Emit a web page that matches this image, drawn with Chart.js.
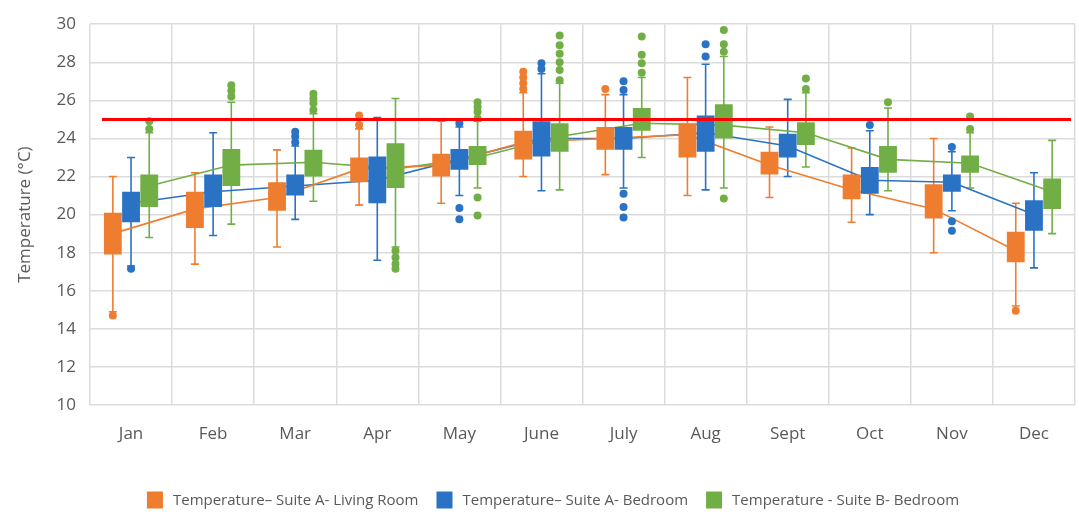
<!DOCTYPE html>
<html>
<head>
<meta charset="utf-8">
<script src="https://cdn.jsdelivr.net/npm/chart.js@4"></script>
<style>
  html, body { margin: 0; padding: 0; background: #ffffff; }
  #wrap { width: 1079px; height: 512px; }
</style>
</head>
<body>
<div id="wrap"><canvas id="chart" width="1079" height="512"></canvas></div>
<script>
// Monthly indoor temperature distributions (°C), one box per room
const months = ['Jan', 'Feb', 'Mar', 'Apr', 'May', 'June', 'July', 'Aug', 'Sept', 'Oct', 'Nov', 'Dec'];
const yTicks = [10, 12, 14, 16, 18, 20, 22, 24, 26, 28, 30];
const seriesNames = ['Temperature\u2013 Suite A- Living Room', 'Temperature\u2013 Suite A- Bedroom', 'Temperature - Suite B- Bedroom'];
const comfortLimit = 25;

// Suite A – Living Room
const livingQ1   = [17.9, 19.3, 20.2, 21.7, 22.0, 22.9, 23.4, 23.0, 22.1, 20.8, 19.8, 17.5];
const livingQ3   = [20.1, 21.2, 21.7, 23.0, 23.2, 24.4, 24.6, 24.8, 23.3, 22.1, 21.6, 19.1];
const livingMin  = [14.9, 17.4, 18.3, 20.5, 20.6, 22.0, 22.1, 21.0, 20.9, 19.6, 18.0, 15.2];
const livingMax  = [22.0, 22.2, 23.4, 24.5, 24.9, 26.4, 26.3, 27.2, 24.6, 23.5, 24.0, 20.6];
const livingMean = [19.0, 20.3, 20.9, 22.4, 22.6, 23.8, 24.0, 24.2, 22.6, 21.3, 20.3, 18.1];
const livingOut  = [[14.7], [], [], [24.7, 25.2], [], [26.6, 26.9, 27.2, 27.5], [26.6], [], [], [], [], [14.95]];

// Suite A – Bedroom
const bedAQ1   = [19.6, 20.4, 21.0, 20.6, 22.35, 23.05, 23.4, 23.3, 23.0, 21.1, 21.2, 19.15];
const bedAQ3   = [21.2, 22.1, 22.1, 23.05, 23.45, 24.9, 24.6, 25.2, 24.25, 22.5, 22.1, 20.75];
const bedAMin  = [17.3, 18.9, 19.75, 17.6, 21.0, 21.25, 21.4, 21.3, 22.0, 20.0, 20.2, 17.2];
const bedAMax  = [23.0, 24.3, 23.6, 25.1, 24.6, 27.4, 26.3, 27.9, 26.05, 24.4, 23.3, 22.2];
const bedAMean = [20.6, 21.2, 21.5, 21.8, 22.9, 24.0, 24.0, 24.3, 23.6, 21.8, 21.7, 20.0];
const bedAOut  = [[17.15], [], [23.8, 24.1, 24.35], [], [24.8, 20.35, 19.75], [27.65, 27.95],
                  [26.55, 27.0, 21.1, 20.4, 19.85], [28.3, 28.95], [], [24.7], [23.55, 19.65, 19.15], []];

// Suite B – Bedroom
const bedBQ1   = [20.4, 21.5, 22.0, 21.4, 22.6, 23.3, 24.4, 24.0, 23.65, 22.2, 22.2, 20.3];
const bedBQ3   = [22.1, 23.45, 23.4, 23.75, 23.6, 24.8, 25.6, 25.8, 24.85, 23.6, 23.1, 21.9];
const bedBMin  = [18.8, 19.5, 20.7, 18.3, 21.4, 21.3, 23.0, 21.4, 22.5, 21.25, 21.4, 19.0];
const bedBMax  = [24.3, 25.9, 25.3, 26.1, 24.9, 26.9, 27.2, 28.3, 26.4, 25.6, 24.3, 23.9];
const bedBMean = [21.5, 22.6, 22.75, 22.4, 23.0, 24.1, 24.8, 24.7, 24.3, 22.9, 22.7, 21.2];
const bedBOut  = [[24.5, 24.9], [26.2, 26.5, 26.8], [25.5, 25.85, 26.1, 26.35], [18.1, 17.75, 17.4, 17.15],
                  [25.05, 25.4, 25.65, 25.9, 20.9, 19.95], [27.05, 27.6, 28.0, 28.45, 28.9, 29.4],
                  [27.45, 27.95, 28.4, 29.35], [28.55, 28.95, 29.7, 20.85], [26.6, 27.15], [25.9], [24.5, 25.15], []];

const COLORS = ['#EE7D30', '#2A72C4', '#72AE46'];
const GROUP_WIDTH = 0.665;   // share of a month taken by its three boxes

const groups = [
  { q1: livingQ1, q3: livingQ3, lo: livingMin, hi: livingMax, mean: livingMean, out: livingOut },
  { q1: bedAQ1,   q3: bedAQ3,   lo: bedAMin,   hi: bedAMax,   mean: bedAMean,   out: bedAOut },
  { q1: bedBQ1,   q3: bedBQ3,   lo: bedBMin,   hi: bedBMax,   mean: bedBMean,   out: bedBOut }
];

// horizontal shift of each series inside its month, in category units
const shift = i => (i - 1) * GROUP_WIDTH / 3;

const datasets = [];
groups.forEach((g, i) => {
  datasets.push({
    type: 'bar',
    label: seriesNames[i],
    data: g.q1.map((v, j) => ({ x: j + shift(i), y: [v, g.q3[j]] })),
    backgroundColor: COLORS[i],
    borderWidth: 0,
    grouped: false,
    categoryPercentage: 1,
    barPercentage: 0.98,
    xAxisID: 'xl',
    order: 2,
    whiskers: { lo: g.lo, hi: g.hi }
  });
});
groups.forEach((g, i) => {
  datasets.push({
    type: 'line',
    label: seriesNames[i] + ' mean',
    data: g.mean.map((v, j) => ({ x: j + shift(i), y: v })),
    borderColor: COLORS[i],
    borderWidth: 1.6,
    pointRadius: 0,
    fill: false,
    tension: 0,
    xAxisID: 'xl',
    order: 3
  });
});
groups.forEach((g, i) => {
  const pts = [];
  g.out.forEach((list, j) => list.forEach(v => pts.push({ x: j + shift(i), y: v })));
  datasets.push({
    type: 'scatter',
    label: seriesNames[i] + ' outliers',
    data: pts,
    backgroundColor: COLORS[i],
    borderColor: COLORS[i],
    pointRadius: 4,
    pointBorderWidth: 0,
    xAxisID: 'xl',
    order: 1
  });
});

// whisker stems and caps for the box datasets
const whiskerPlugin = {
  id: 'whiskers',
  beforeDatasetsDraw(chart) {
    const { ctx } = chart;
    const y = chart.scales.y;
    chart.data.datasets.forEach((ds, i) => {
      if (!ds.whiskers) return;
      const meta = chart.getDatasetMeta(i);
      ctx.save();
      ctx.strokeStyle = ds.backgroundColor;
      ctx.lineWidth = 1.6;
      meta.data.forEach((bar, j) => {
        const yLo = y.getPixelForValue(ds.whiskers.lo[j]);
        const yHi = y.getPixelForValue(ds.whiskers.hi[j]);
        ctx.beginPath();
        ctx.moveTo(bar.x, yLo); ctx.lineTo(bar.x, yHi);
        ctx.moveTo(bar.x - 4, yLo); ctx.lineTo(bar.x + 4, yLo);
        ctx.moveTo(bar.x - 4, yHi); ctx.lineTo(bar.x + 4, yHi);
        ctx.stroke();
      });
      ctx.restore();
    });
  }
};

// red limit line across the plot
const limitPlugin = {
  id: 'limitLine',
  afterDatasetsDraw(chart) {
    const { ctx, chartArea } = chart;
    const yPix = chart.scales.y.getPixelForValue(comfortLimit);
    ctx.save();
    ctx.strokeStyle = '#FF0000';
    ctx.lineWidth = 3;
    ctx.beginPath();
    ctx.moveTo(chartArea.left + 12, yPix);
    ctx.lineTo(chartArea.right - 4, yPix);
    ctx.stroke();
    ctx.restore();
  }
};

const TEXT = '#595959';
const LEGEND_FONT = "15px 'Open Sans', sans-serif";

// legend row below the month labels: one square swatch per box series
const legendPlugin = {
  id: 'boxLegend',
  afterDraw(chart) {
    const { ctx } = chart;
    const boxW = 16, boxH = 17, textGap = 10, itemGap = 18;
    const cy = 500;
    const items = chart.data.datasets.filter(ds => ds.whiskers);
    ctx.save();
    ctx.font = LEGEND_FONT;
    const widths = items.map(ds => boxW + textGap + ctx.measureText(ds.label).width);
    const total = widths.reduce((a, b) => a + b, 0) + itemGap * (items.length - 1);
    let x = 553 - total / 2;
    ctx.textBaseline = 'middle';
    ctx.textAlign = 'left';
    items.forEach((ds, k) => {
      ctx.fillStyle = ds.backgroundColor;
      ctx.fillRect(x, cy - boxH / 2, boxW, boxH);
      ctx.fillStyle = TEXT;
      ctx.fillText(ds.label, x + boxW + textGap, cy + 1);
      x += widths[k] + itemGap;
    });
    ctx.restore();
  }
};

const GRID = '#dcdcdc';

new Chart(document.getElementById('chart'), {
  data: { labels: months, datasets },
  options: {
    responsive: false,
    animation: false,
    events: [],
    layout: { padding: { left: 15, right: 0, top: 22, bottom: 62 } },
    plugins: {
      tooltip: { enabled: false },
      legend: { display: false }
    },
    scales: {
      x: {
        type: 'category',
        offset: true,
        grid: { color: GRID, lineWidth: 1.5, drawTicks: false, offset: true },
        border: { display: false },
        ticks: { color: TEXT, font: { family: "'Open Sans', sans-serif", size: 17 }, padding: 19 },
        afterFit: s => { s.height = 45; }
      },
      xl: {
        type: 'linear',
        display: false,
        offset: false,
        grid: { offset: false },
        min: -0.5,
        max: 11.5,
        ticks: { stepSize: 1 }
      },
      y: {
        min: 10,
        max: 30,
        afterBuildTicks: s => { s.ticks = yTicks.map(v => ({ value: v })); },
        grid: { color: GRID, lineWidth: 1.5, drawTicks: false },
        border: { display: false },
        ticks: { color: TEXT, font: { family: "'Open Sans', sans-serif", size: 17 }, padding: 14 },
        title: {
          display: true,
          text: 'Temperature (\u00B0C)',
          color: TEXT,
          font: { family: "'Open Sans', sans-serif", size: 17 },
          padding: 0
        },
        afterFit: s => { s.width = 75; }
      }
    }
  },
  plugins: [whiskerPlugin, limitPlugin, legendPlugin]
});
</script>
</body>
</html>
